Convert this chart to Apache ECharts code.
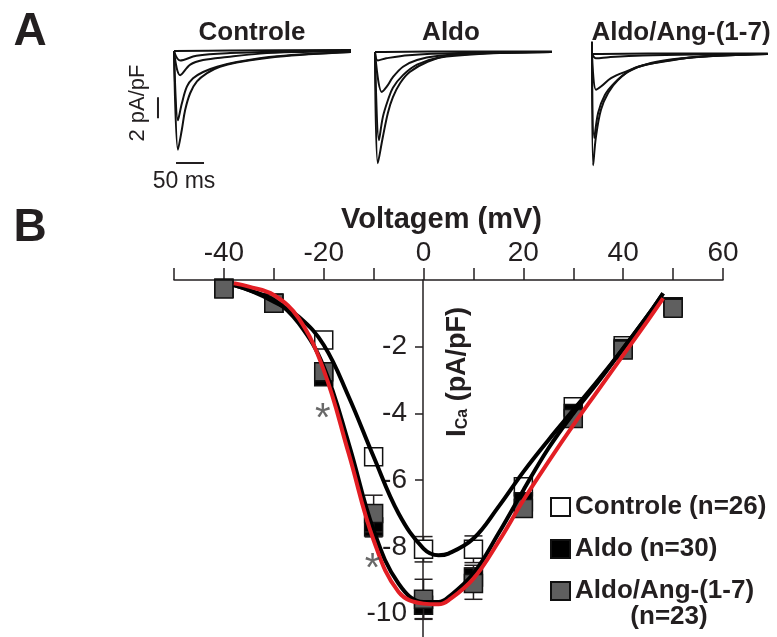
<!DOCTYPE html>
<html>
<head>
<meta charset="utf-8">
<script src="https://cdn.jsdelivr.net/npm/echarts/dist/echarts.min.js"></script>
<style>
    html, body {margin: 0; padding: 0; background: #fff;}
    #main {width: 777px; height: 637px;}
</style>
</head>
<body>
<div id="main"></div>
<script>
    // ---- panel A : current traces, [time ms, current pA/pF] ----
    const ctrlTraces = [
        [[0, 0], [100, 0.05], [316, 0.1]],
        [[0, 0], [11, -0.9], [40, -0.45], [100, -0.2], [200, -0.05], [316, 0.05]],
        [[0, 0], [11, -2.3], [29, -1.3], [52, -0.86], [95, -0.57], [154, -0.25], [220, -0.1], [316, 0]],
        [[0, 0], [7, -6.6], [14, -5.0], [23, -3.4], [34, -2.6], [52, -2.0], [77, -1.5], [112, -1.05], [184, -0.5], [316, -0.1]],
        [[0, 0], [7, -9.4], [14, -7.5], [20, -5.6], [29, -4.0], [41, -2.9], [59, -2.1], [82, -1.5], [112, -1.1], [184, -0.55], [316, -0.1]]
    ];
    const aldoTraces = [
        [[0, 0], [100, 0.05], [316, 0.05]],
        [[0, 0], [5, -0.8], [20, -0.6], [60, -0.3], [150, -0.1], [316, 0]],
        [[0, 0], [12, -3.8], [21, -3.3], [32, -2.4], [50, -1.4], [75, -0.76], [111, -0.38], [200, -0.1], [316, 0]],
        [[0, 0], [7, -8.4], [14, -6.2], [23, -4.6], [32, -3.4], [50, -2.2], [75, -1.2], [111, -0.57], [200, -0.15], [316, 0]],
        [[0, 0], [5, -10.6], [14, -8.1], [23, -5.8], [32, -4.3], [45, -2.95], [62, -1.9], [93, -0.95], [134, -0.3], [316, 0]]
    ];
    const angTraces = [
        [[0, 0], [100, 0.05], [314, 0.05]],
        [[0, 0], [7, -0.4], [30, -0.3], [90, -0.15], [200, -0.05], [314, 0]],
        [[0, 0], [7, -3.4], [16, -3.1], [34, -2.3], [59, -1.7], [95, -1.05], [154, -0.48], [230, -0.15], [314, 0]],
        [[0, 0], [4, -8.0], [11, -5.6], [23, -3.9], [41, -2.7], [64, -1.7], [105, -0.86], [166, -0.38], [240, -0.1], [314, 0]],
        [[0, 1.2], [2, -10.6], [7, -7.9], [16, -5.3], [29, -3.7], [46, -2.5], [77, -1.3], [123, -0.76], [184, -0.3], [314, 0]]
    ];
    const scaleBarI = [[-28.6, -4.4], [-28.6, -6.4]];     // 2 pA/pF
    const scaleBarT = [[3.6, -10.67], [53.6, -10.67]];    // 50 ms

    // ---- panel B : I-V relation ----
    const voltages = [-40, -30, -20, -10, 0, 10, 20, 30, 40, 50];
    const ctrlMean = [-0.25, -0.7, -1.8, -5.3, -8.07, -8.07, -6.2, -3.8, -1.97, -0.8];
    const ctrlSem = [0.05, 0.1, 0.15, 0.25, 0.38, 0.4, 0.25, 0.2, 0.15, 0.1];
    const aldoMean = [-0.25, -0.7, -2.9, -7.4, -9.75, -8.9, -6.65, -4.0, -2.05, -0.8];
    const aldoSem = [0.05, 0.1, 0.2, 0.3, 0.4, 0.35, 0.25, 0.2, 0.15, 0.1];
    const angMean = [-0.27, -0.7, -2.75, -7.0, -9.57, -9.1, -6.85, -4.15, -2.1, -0.85];
    const angSem = [0.05, 0.1, 0.2, 0.55, 0.6, 0.47, 0.25, 0.2, 0.15, 0.1];

    const fitV = [-38, -35, -30, -25, -20, -15, -10, -5, 0, 3, 5, 10, 15, 20, 25, 30, 35, 40, 45, 48];
    const ctrlFit = [-0.15, -0.3, -0.65, -1.1, -1.95, -3.5, -5.3, -7.0, -8.05, -8.25, -8.2, -7.75, -6.8, -5.75, -4.8, -3.9, -3.0, -2.05, -1.05, -0.4];
    const aldoFit = [-0.15, -0.3, -0.6, -1.3, -2.6, -4.9, -7.5, -9.1, -9.65, -9.65, -9.5, -8.8, -7.6, -6.3, -5.05, -4.0, -3.05, -2.05, -1.05, -0.4];
    const angFit = [-0.1, -0.2, -0.45, -1.15, -2.7, -5.2, -7.8, -9.35, -9.7, -9.72, -9.6, -8.95, -7.85, -6.6, -5.45, -4.35, -3.3, -2.25, -1.2, -0.55];
    const sigMarks = [[-20.2, -3.9], [-10.2, -8.4]];

    const xTicks = [-40, -20, 0, 20, 40, 60];
    const yTicks = [-10, -8, -6, -4, -2];

    const ink = '#231f20';
    const font = 'Liberation Sans, Arial, sans-serif';
    const chart = echarts.init(document.getElementById('main'));

    // trace panels: t=0 x position and baseline y position
    const t0 = [174, 375, 592];
    const base = [51, 52, 54];
    const grids = [], xAxes = [], yAxes = [], series = [];
    [ctrlTraces, aldoTraces, angTraces].forEach((traces, i) => {
        grids.push({left: t0[i] - 30 * 0.56, top: base[i] - 0.5 * 10.5, width: 350 * 0.56, height: 12 * 10.5});
        xAxes.push({type: 'value', gridIndex: i, min: -30, max: 320, show: false});
        yAxes.push({type: 'value', gridIndex: i, min: -11.5, max: 0.5, show: false});
        traces.forEach(tr => series.push({
            type: 'line', xAxisIndex: i, yAxisIndex: i, data: tr, smooth: 0.35, symbol: 'none',
            clip: false, lineStyle: {color: '#111', width: 2}
        }));
    });
    [scaleBarI, scaleBarT].forEach(bar => series.push({
        type: 'line', xAxisIndex: 0, yAxisIndex: 0, data: bar, symbol: 'none', clip: false,
        lineStyle: {color: ink, width: 2}
    }));

    // I-V grid: 0 .. -10.7 pA/pF over 280 .. 637 px
    grids.push({left: 174, top: 280, width: 549, height: 357});
    xAxes.push({
        type: 'value', gridIndex: 3, position: 'top', min: -50, max: 60, interval: 10,
        axisLine: {onZero: false, lineStyle: {color: ink, width: 1.5}},
        axisTick: {length: 12, lineStyle: {color: ink, width: 1.5}},
        axisLabel: {
            fontSize: 28, fontFamily: font, color: ink, margin: 13,
            formatter: v => xTicks.indexOf(v) >= 0 ? String(v) : ''
        },
        splitLine: {show: false},
        name: 'Voltagem (mV)', nameLocation: 'middle', nameGap: 40,
        nameTextStyle: {fontSize: 29, fontWeight: 'bold', fontFamily: font, color: ink, padding: [0, 14, 0, 0]}
    });
    yAxes.push({
        type: 'value', gridIndex: 3, min: -10.7, max: 0,
        offset: -249,   // puts the axis on V = 0
        axisLine: {onZero: false, lineStyle: {color: ink, width: 1.5}},
        axisTick: {length: 8, customValues: yTicks, lineStyle: {color: ink, width: 1.5}},
        axisLabel: {fontSize: 28, fontFamily: font, color: ink, margin: 16, customValues: yTicks},
        splitLine: {show: false}
    });

    function errBars(means, sems, z) {
        return {
            type: 'custom', xAxisIndex: 3, yAxisIndex: 3, z: z, silent: true, clip: false,
            data: voltages.map((v, i) => [v, means[i] - sems[i], means[i] + sems[i]]),
            renderItem: (params, api) => {
                const lo = api.coord([api.value(0), api.value(1)]);
                const hi = api.coord([api.value(0), api.value(2)]);
                const st = {stroke: ink, lineWidth: 1.5};
                return {
                    type: 'group', children: [
                        {type: 'line', shape: {x1: lo[0], y1: lo[1], x2: hi[0], y2: hi[1]}, style: st},
                        {type: 'line', shape: {x1: lo[0] - 9, y1: lo[1], x2: lo[0] + 9, y2: lo[1]}, style: st},
                        {type: 'line', shape: {x1: hi[0] - 9, y1: hi[1], x2: hi[0] + 9, y2: hi[1]}, style: st}
                    ]
                };
            }
        };
    }

    function points(name, means, fill, z) {
        return {
            name: name, type: 'scatter', xAxisIndex: 3, yAxisIndex: 3, z: z,
            data: voltages.map((v, i) => [v, means[i]]),
            symbol: 'rect', symbolSize: 18,
            itemStyle: {color: fill, borderColor: '#111', borderWidth: 1.5, opacity: 1}
        };
    }

    function fit(vals, color) {
        return {
            type: 'line', xAxisIndex: 3, yAxisIndex: 3, z: 10, symbol: 'none', smooth: 0.4,
            data: fitV.map((v, i) => [v, vals[i]]),
            lineStyle: {color: color, width: 4}
        };
    }

    series.push(
        errBars(ctrlMean, ctrlSem, 2), points('Controle (n=26)', ctrlMean, '#ffffff', 3),
        errBars(aldoMean, aldoSem, 4), points('Aldo (n=30)', aldoMean, '#000000', 5),
        errBars(angMean, angSem, 6), points('Aldo/Ang-(1-7)', angMean, '#5f5f5f', 7),
        fit(ctrlFit, '#000000'), fit(aldoFit, '#000000'), fit(angFit, '#e31e24'),
        {
            type: 'scatter', xAxisIndex: 3, yAxisIndex: 3, z: 11, symbolSize: 0, silent: true,
            data: sigMarks,
            label: {
                show: true, formatter: '*', fontSize: 40, fontFamily: font, color: '#444',
                position: 'inside', offset: [0, 10]
            }
        }
    );

    function txt(text, x, y, size, bold, extra) {
        return Object.assign({
            type: 'text', x: x, y: y, silent: true,
            style: {
                text: text, fontSize: size, fontWeight: bold ? 'bold' : 'normal', fontFamily: font,
                fill: ink, align: 'center', verticalAlign: 'middle'
            }
        }, extra || {});
    }

    chart.setOption({
        animation: false,
        textStyle: {fontFamily: font},
        grid: grids, xAxis: xAxes, yAxis: yAxes, series: series,
        legend: {
            orient: 'vertical', left: 545, top: 489, itemWidth: 19, itemHeight: 18, itemGap: 16,
            selectedMode: false,
            data: ['Controle (n=26)', 'Aldo (n=30)', 'Aldo/Ang-(1-7)'],
            textStyle: {fontSize: 26, fontWeight: 'bold', fontFamily: font, color: ink}
        },
        graphic: [
            txt('A', 30, 32, 46, true),
            txt('B', 30, 228, 46, true),
            txt('Controle', 252, 33, 26, true),
            txt('Aldo', 451, 33, 26, true),
            txt('Aldo/Ang-(1-7)', 681, 33, 26, true),
            txt('2 pA/pF', 138, 103, 22, false, {rotation: Math.PI / 2}),
            txt('50 ms', 184, 182, 23, false),
            txt('(n=23)', 669, 617, 26, true),
            {
                type: 'text', x: 456, y: 372, rotation: Math.PI / 2, silent: true,
                style: {
                    text: '{i|I}{s|Ca}{p| (pA/pF)}', align: 'center', verticalAlign: 'middle',
                    fill: ink, fontFamily: font,
                    rich: {
                        i: {fontSize: 28, fontWeight: 'bold', lineHeight: 30, verticalAlign: 'bottom', fill: ink, fontFamily: font},
                        s: {fontSize: 16, fontWeight: 'bold', lineHeight: 8, verticalAlign: 'bottom', fill: ink, fontFamily: font},
                        p: {fontSize: 27, fontWeight: 'bold', lineHeight: 30, verticalAlign: 'bottom', fill: ink, fontFamily: font}
                    }
                }
            }
        ]
    });
</script>
</body>
</html>
